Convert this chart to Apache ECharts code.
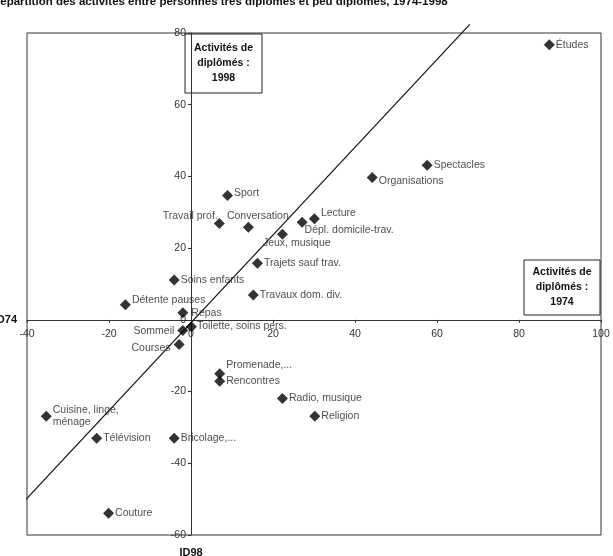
<!DOCTYPE html>
<html>
<head>
<meta charset="utf-8">
<script src="https://cdn.jsdelivr.net/npm/echarts@6/dist/echarts.min.js"></script>
<style>
  html, body { margin: 0; padding: 0; background: #fff; }
  #myChart { width: 613px; height: 556px; }
</style>
</head>
<body>
<div id="myChart"></div>
<script>
// activités, position ID74 (horizontal) et ID98 (vertical)
var activites = [
  'Études', 'Spectacles', 'Organisations', 'Sport', 'Travail prof.', 'Conversation',
  'Lecture', 'Dépl. domicile-trav.', 'Jeux, musique', 'Trajets sauf trav.', 'Soins enfants',
  'Travaux dom. div.', 'Détente pauses', 'Repas', 'Sommeil', 'Toilette, soins pers.',
  'Courses', 'Promenade,...', 'Rencontres', 'Radio, musique', 'Religion',
  'Cuisine, linge,\nménage', 'Télévision', 'Bricolage,...', 'Couture'
]
var id74 = [87.4, 57.6, 44.2, 8.9, 6.9, 14.0, 30.1, 27.1, 22.3, 16.2, -4.1, 15.2, -16.0, -2.0, -2.0, 0.1, -2.9, 7.0, 7.0, 22.3, 30.2, -35.3, -23.0, -4.1, -20.1]
var id98 = [76.7, 43.1, 39.7, 34.7, 26.9, 25.8, 28.2, 27.2, 23.9, 15.8, 11.1, 6.9, 4.2, 2.0, -3.0, -1.9, -6.9, -15.0, -17.1, -21.9, -26.9, -26.9, -33.0, -33.0, -53.9]
// diagonale (extrémités en valeurs)
var diagonale = [[-41.5, -51.6], [68.0, 82.4]]
var xTicks = { min: -40, max: 100, interval: 20 }
var yTicks = { min: -60, max: 80, interval: 20 }

// placement des étiquettes (style)
var labelPlace = {
  'Organisations': { offset: [-2, 4] },
  'Sport': { offset: [-2, -2] },
  'Travail prof.': { position: 'left', offset: [7, -7] },
  'Conversation': { offset: [-30, -11] },
  'Lecture': { offset: [-2, -6] },
  'Dépl. domicile-trav.': { offset: [-6, 8] },
  'Jeux, musique': { offset: [-28, 9] },
  'Détente pauses': { offset: [-2, -5] },
  'Repas': { offset: [0, 0] },
  'Sommeil': { position: 'left', offset: [0, 0] },
  'Toilette, soins pers.': { offset: [-3, -1] },
  'Courses': { position: 'left', offset: [0, 4] },
  'Promenade,...': { offset: [-2, -9] }
}

var fontFam = 'Liberation Sans, Arial, Helvetica, sans-serif'
var W = 613, H = 556
var gridBox = { left: 27, right: 12, top: 33, bottom: 21 }
var gridW = W - gridBox.left - gridBox.right
var gridH = H - gridBox.top - gridBox.bottom
// les axes passent par zéro, étiquettes comprises
var yAxisShift = -gridW * (0 - xTicks.min) / (xTicks.max - xTicks.min)
var xAxisShift = -gridH * (0 - yTicks.min) / (yTicks.max - yTicks.min)

var myChart = echarts.init(document.getElementById('myChart'))

var points = activites.map(function (name, i) {
  var p = labelPlace[name] || {}
  return {
    name: name,
    value: [id74[i], id98[i]],
    label: {
      position: p.position || 'right',
      offset: p.offset || [-2, 0]
    }
  }
})

function boxText (lines, x, y, w, h) {
  return {
    type: 'group',
    x: x,
    y: y,
    z: 100,
    children: [
      { type: 'rect', shape: { x: 0, y: 0, width: w, height: h }, style: { fill: '#fff', stroke: '#222', lineWidth: 1 } },
      {
        type: 'text',
        x: w / 2,
        y: h / 2,
        style: {
          text: lines,
          fill: '#111',
          font: 'bold 10.5px ' + fontFam,
          align: 'center',
          verticalAlign: 'middle',
          lineHeight: 15
        }
      }
    ]
  }
}

var option = {
  backgroundColor: '#fff',
  animation: false,
  grid: {
    left: gridBox.left,
    right: gridBox.right,
    top: gridBox.top,
    bottom: gridBox.bottom,
    outerBoundsMode: 'none',
    containLabel: false,
    show: true,
    borderColor: '#333',
    borderWidth: 1
  },
  xAxis: {
    type: 'value',
    position: 'bottom',
    offset: xAxisShift,
    min: xTicks.min,
    max: xTicks.max,
    interval: xTicks.interval,
    name: 'ID74',
    nameLocation: 'start',
    nameGap: 10,
    nameTextStyle: { fontFamily: fontFam, fontWeight: 'bold', fontSize: 11, color: '#111', padding: [6, 0, 0, 0] },
    axisLine: { onZero: false, lineStyle: { color: '#333' } },
    axisTick: { length: 3, lineStyle: { color: '#333' } },
    axisLabel: { fontFamily: fontFam, fontSize: 10.5, color: '#333', margin: 9 },
    splitLine: { show: false }
  },
  yAxis: {
    type: 'value',
    position: 'left',
    offset: yAxisShift,
    min: yTicks.min,
    max: yTicks.max,
    interval: yTicks.interval,
    name: 'ID98',
    nameLocation: 'start',
    nameGap: 12,
    nameTextStyle: { fontFamily: fontFam, fontWeight: 'bold', fontSize: 11, color: '#111' },
    axisLine: { onZero: false, lineStyle: { color: '#333' } },
    axisTick: { length: 3, lineStyle: { color: '#333' } },
    axisLabel: { fontFamily: fontFam, fontSize: 10.5, color: '#333', margin: 5 },
    splitLine: { show: false }
  },
  graphic: [
    {
      type: 'text',
      x: -8,
      y: -4,
      style: {
        text: 'Répartition des activités entre personnes très diplômés et peu diplômés, 1974-1998',
        font: 'bold 11.5px ' + fontFam,
        fill: '#111'
      }
    },
    boxText('Activités de\ndiplômés :\n1998', 185, 34, 77, 59),
    boxText('Activités de\ndiplômés :\n1974', 524, 260, 76, 55)
  ],
  series: [
    {
      type: 'line',
      data: diagonale,
      clip: false,
      symbol: 'none',
      silent: true,
      lineStyle: { color: '#111', width: 1.2 },
      z: 1
    },
    {
      type: 'scatter',
      symbol: 'diamond',
      symbolSize: 11,
      itemStyle: { color: '#000' },
      label: {
        show: true,
        formatter: '{b}',
        distance: 3,
        fontFamily: fontFam,
        fontSize: 10.5,
        lineHeight: 12,
        color: '#1a1a1a'
      },
      data: points,
      z: 3
    }
  ]
}
myChart.setOption(option)
</script>
</body>
</html>
